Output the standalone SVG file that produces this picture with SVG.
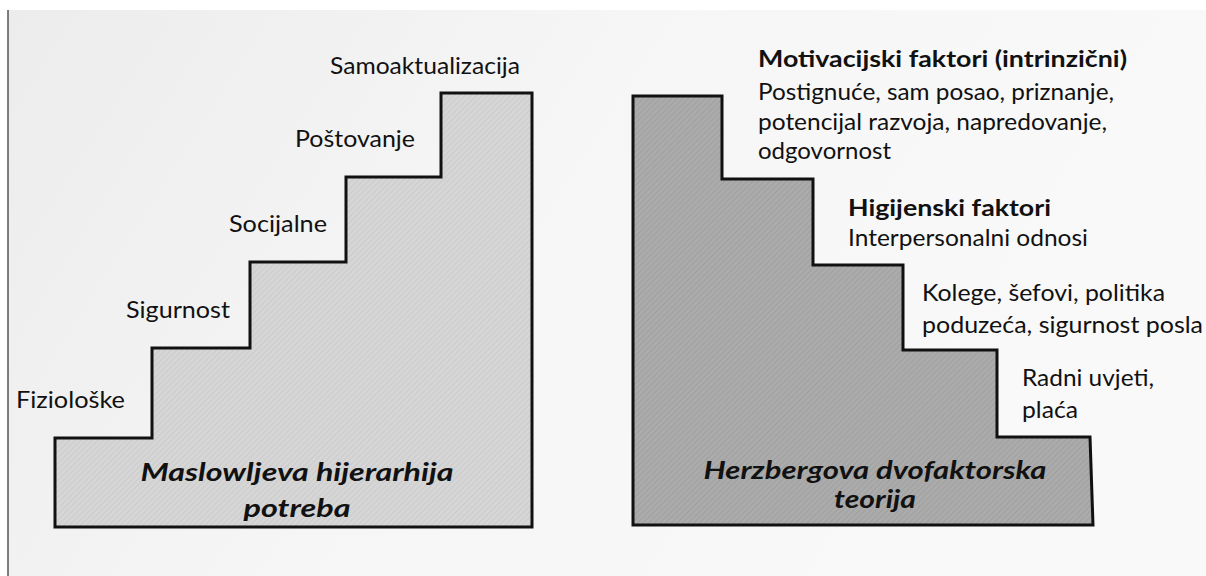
<svg xmlns="http://www.w3.org/2000/svg" width="1206" height="576" viewBox="0 0 1206 576">
  <defs>
    <linearGradient id="page" x1="0" y1="0" x2="1" y2="0.3">
      <stop offset="0" stop-color="#ececec"/>
      <stop offset="0.5" stop-color="#f6f6f6"/>
      <stop offset="1" stop-color="#f9f9f9"/>
    </linearGradient>
    <pattern id="hatchLight" width="4" height="4" patternUnits="userSpaceOnUse" patternTransform="rotate(45)">
      <rect width="4" height="4" fill="#d6d6d6"/>
      <line x1="0" y1="0" x2="0" y2="4" stroke="#c4c4c4" stroke-width="1.2"/>
    </pattern>
    <pattern id="hatchDark" width="4" height="4" patternUnits="userSpaceOnUse" patternTransform="rotate(45)">
      <rect width="4" height="4" fill="#ababab"/>
      <line x1="0" y1="0" x2="0" y2="4" stroke="#989898" stroke-width="1.2"/>
    </pattern>
    <style>
      .stair { stroke: #111; stroke-width: 3; stroke-linejoin: miter; }
      .lbl { font-family: Lato, "Liberation Sans", sans-serif; font-size: 23px; fill: #111; }
      .hd { font-family: Lato, "Liberation Sans", sans-serif; font-size: 23px; font-weight: bold; fill: #111; }
      .title { font-family: Lato, "Liberation Sans", sans-serif; font-size: 25px; font-weight: bold; font-style: italic; fill: #111; text-anchor: middle; }
    </style>
  </defs>

  <rect x="0" y="0" width="1206" height="576" fill="#ffffff"/>
  <rect x="8" y="10" width="1198" height="566" fill="url(#page)"/>
  <line x1="8" y1="10" x2="8" y2="576" stroke="#555" stroke-width="1.5"/>

  <g id="maslow">
    <path class="stair" fill="url(#hatchLight)" d="M 55 527 V 438 H 152 V 348 H 250 V 262 H 346 V 177 H 441 V 93 H 532 V 527 Z"/>
    <text class="title" x="297" y="481" textLength="313" lengthAdjust="spacingAndGlyphs">Maslowljeva hijerarhija</text>
    <text class="title" x="297" y="517" textLength="107" lengthAdjust="spacingAndGlyphs">potreba</text>
  </g>
  <g id="maslow-labels">
    <text class="lbl" x="330" y="74" textLength="190" lengthAdjust="spacingAndGlyphs">Samoaktualizacija</text>
    <text class="lbl" x="295" y="147" textLength="120" lengthAdjust="spacingAndGlyphs">Poštovanje</text>
    <text class="lbl" x="229" y="232" textLength="98" lengthAdjust="spacingAndGlyphs">Socijalne</text>
    <text class="lbl" x="126" y="318" textLength="104" lengthAdjust="spacingAndGlyphs">Sigurnost</text>
    <text class="lbl" x="16" y="408" textLength="109" lengthAdjust="spacingAndGlyphs">Fiziološke</text>
  </g>

  <g id="herzberg">
    <path class="stair" fill="url(#hatchDark)" d="M 633 96 H 722 V 179 H 813 V 265 H 903 V 350 H 997 V 437 H 1090 L 1093 525 H 633 Z"/>
    <text class="title" x="875" y="479" textLength="343" lengthAdjust="spacingAndGlyphs">Herzbergova dvofaktorska</text>
    <text class="title" x="875" y="508" textLength="82" lengthAdjust="spacingAndGlyphs">teorija</text>
  </g>
  <g id="herzberg-labels">
    <text class="hd" x="758" y="67" textLength="369" lengthAdjust="spacingAndGlyphs">Motivacijski faktori (intrinzični)</text>
    <text class="lbl" x="758" y="100" textLength="356" lengthAdjust="spacingAndGlyphs">Postignuće, sam posao, priznanje,</text>
    <text class="lbl" x="758" y="130" textLength="349" lengthAdjust="spacingAndGlyphs">potencijal razvoja, napredovanje,</text>
    <text class="lbl" x="758" y="159" textLength="133" lengthAdjust="spacingAndGlyphs">odgovornost</text>
    <text class="hd" x="848" y="216" textLength="203" lengthAdjust="spacingAndGlyphs">Higijenski faktori</text>
    <text class="lbl" x="848" y="246" textLength="240" lengthAdjust="spacingAndGlyphs">Interpersonalni odnosi</text>
    <text class="lbl" x="922" y="301" textLength="243" lengthAdjust="spacingAndGlyphs">Kolege, šefovi, politika</text>
    <text class="lbl" x="922" y="333" textLength="281" lengthAdjust="spacingAndGlyphs">poduzeća, sigurnost posla</text>
    <text class="lbl" x="1022" y="386" textLength="132" lengthAdjust="spacingAndGlyphs">Radni uvjeti,</text>
    <text class="lbl" x="1022" y="418" textLength="56" lengthAdjust="spacingAndGlyphs">plaća</text>
  </g>
</svg>
